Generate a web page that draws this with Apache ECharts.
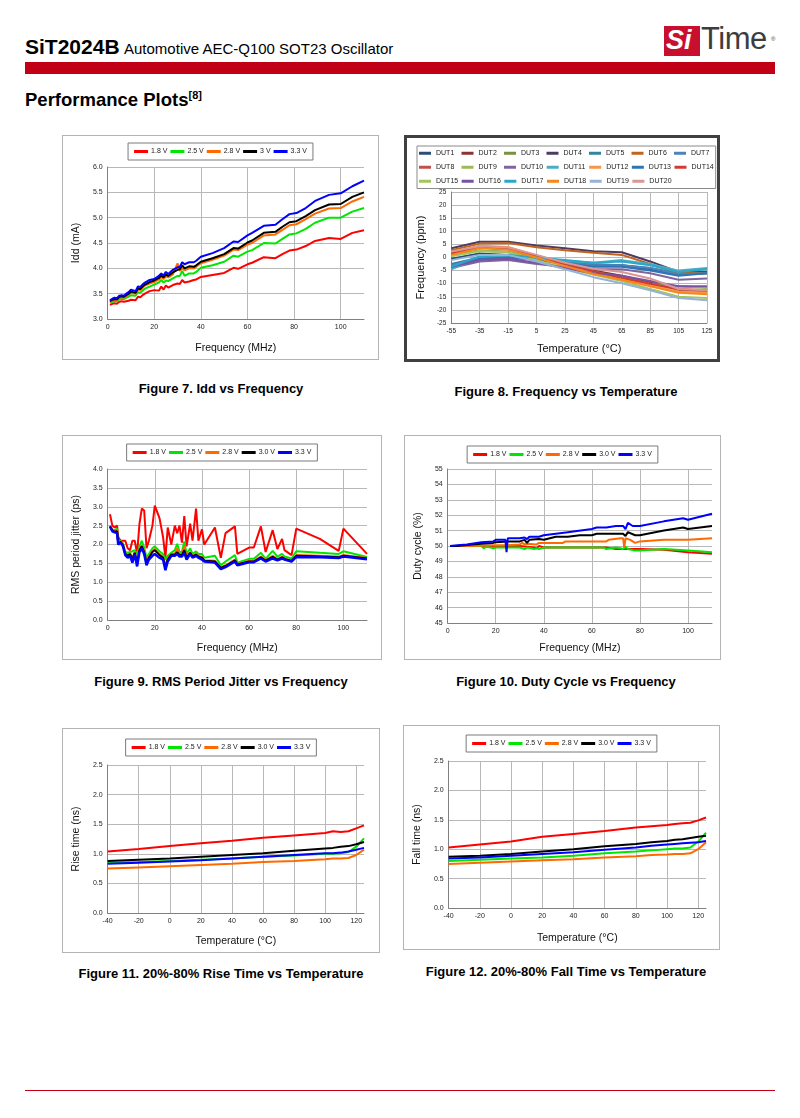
<!DOCTYPE html>
<html><head><meta charset="utf-8">
<script src="https://cdn.jsdelivr.net/npm/echarts@6/dist/echarts.min.js"></script>
<style>
html,body{margin:0;padding:0;background:#fff;}
body{width:800px;height:1118px;position:relative;overflow:hidden;font-family:"Liberation Sans",Arial,sans-serif;color:#000;}
.abs{position:absolute;white-space:nowrap;}
.box{position:absolute;box-sizing:border-box;background:#fff;}
.cap{position:absolute;font-weight:bold;font-size:13px;text-align:center;width:400px;}
</style></head><body>
<div class="abs" style="left:25px;top:35px;"><span style="font-weight:bold;font-size:21px;">SiT2024B</span> <span style="font-size:15px;">Automotive AEC-Q100 SOT23 Oscillator</span></div>
<div class="abs" style="left:25px;top:62px;width:750px;height:12px;background:#c10016;"></div>
<div class="abs" style="left:664px;top:26px;width:36px;height:30px;background:#c8102e;"></div>
<div class="abs" style="left:666px;top:25px;font:italic bold 27px 'Liberation Sans';color:#fff;">Si</div>
<div class="abs" style="left:701px;top:21px;font:31px 'Liberation Sans';color:#3d3d3d;letter-spacing:-0.5px;">Time</div>
<div class="abs" style="left:771px;top:36px;font-size:6px;color:#3d3d3d;">®</div>
<div class="abs" style="left:25px;top:89px;font-weight:bold;font-size:18.5px;">Performance Plots<sup style="font-size:11px;">[8]</sup></div>

<div class="cap" style="left:21px;top:381px;">Figure 7. Idd vs Frequency</div>
<div class="cap" style="left:366px;top:384px;">Figure 8. Frequency vs Temperature</div>
<div class="cap" style="left:21px;top:674px;">Figure 9. RMS Period Jitter vs Frequency</div>
<div class="cap" style="left:366px;top:674px;">Figure 10. Duty Cycle vs Frequency</div>
<div class="cap" style="left:21px;top:966px;">Figure 11. 20%-80% Rise Time vs Temperature</div>
<div class="cap" style="left:366px;top:964px;">Figure 12. 20%-80% Fall Time vs Temperature</div>
<div class="abs" style="left:25px;top:1090px;width:750px;height:1px;background:#c10016;"></div>

<script>
// ---------- DATA ----------
const voltNames = ['1.8 V', '2.5 V', '2.8 V', '3.0 V', '3.3 V'];
const voltNamesIdd = ['1.8 V', '2.5 V', '2.8 V', '3 V', '3.3 V'];

// Figure 7: Idd vs Frequency
const iddFreq = [1,2,3,4,5,6,7,8,9,10,12,13,14,15,16,18,20,22,23,24,25,26,28,30,31,32,33,35,37,38,40,45,50,54,56,60,62,67,72,75,78,81,85,89,95,100,105,110];
const idd18 = [3.28,3.30,3.31,3.30,3.34,3.35,3.34,3.35,3.36,3.38,3.37,3.44,3.43,3.47,3.50,3.55,3.57,3.56,3.64,3.58,3.66,3.62,3.67,3.70,3.69,3.77,3.72,3.74,3.77,3.78,3.83,3.87,3.91,4.01,3.99,4.08,4.11,4.22,4.20,4.28,4.35,4.37,4.44,4.54,4.60,4.58,4.70,4.75];
const idd25 = [3.32,3.34,3.35,3.35,3.39,3.40,3.39,3.42,3.44,3.47,3.46,3.53,3.52,3.56,3.60,3.64,3.68,3.72,3.77,3.72,3.76,3.75,3.80,3.85,3.85,3.95,3.85,3.90,3.90,3.93,4.01,4.06,4.13,4.25,4.23,4.33,4.36,4.50,4.49,4.58,4.67,4.69,4.78,4.90,5.00,5.00,5.12,5.19];
const idd28 = [3.33,3.36,3.37,3.37,3.42,3.43,3.42,3.45,3.48,3.52,3.50,3.58,3.57,3.62,3.66,3.70,3.73,3.78,3.83,3.79,3.84,3.82,3.88,4.10,3.95,4.00,3.96,4.00,4.00,4.03,4.10,4.17,4.25,4.37,4.36,4.47,4.50,4.65,4.67,4.76,4.85,4.87,4.97,5.08,5.18,5.19,5.32,5.41];
const idd30 = [3.35,3.38,3.39,3.39,3.44,3.45,3.44,3.47,3.50,3.54,3.52,3.60,3.59,3.64,3.68,3.73,3.76,3.81,3.86,3.82,3.88,3.85,3.92,3.97,3.98,4.06,4.00,4.04,4.03,4.06,4.13,4.20,4.28,4.40,4.39,4.51,4.55,4.70,4.72,4.82,4.91,4.93,5.03,5.15,5.26,5.27,5.41,5.50];
const idd33 = [3.37,3.40,3.42,3.41,3.46,3.47,3.46,3.50,3.53,3.58,3.55,3.64,3.63,3.68,3.72,3.77,3.79,3.85,3.90,3.86,3.93,3.89,3.97,4.02,4.03,4.12,4.08,4.12,4.12,4.15,4.23,4.30,4.40,4.53,4.52,4.65,4.70,4.84,4.86,4.97,5.07,5.09,5.19,5.33,5.45,5.48,5.62,5.73];

// Figure 8: Frequency vs Temperature (20 DUTs)
const dutTemps = ['-55','-35','-15','5','25','45','65','85','105','125'];
const dutNames = ['DUT1','DUT2','DUT3','DUT4','DUT5','DUT6','DUT7','DUT8','DUT9','DUT10','DUT11','DUT12','DUT13','DUT14','DUT15','DUT16','DUT17','DUT18','DUT19','DUT20'];
const dut1  = [-0.5,1.5,1,-1,-2,-3,-3,-4.5,-6.5,-6];
const dut2  = [1.5,4,3.5,0.5,-2.5,-5,-7,-9.5,-12.5,-13];
const dut3  = [1,2.7,2.2,-0.3,-2.8,-5.3,-7.5,-10,-11,-11.5];
const dut4  = [3.5,6,6,4.6,3.5,2.4,2,-1.5,-5.5,-5.5];
const dut5  = [-2.5,0,0.5,-0.5,-1.5,-2.5,-3,-4,-6,-5.8];
const dut6  = [2.8,5.3,5.5,3.9,2.8,1.8,1,-2.5,-6,-6];
const dut7  = [-3,0,0,-1,-2,-3,-3,-4,-6.5,-6];
const dut8  = [1.2,3.8,3.3,0.3,-2.7,-5.5,-7.5,-10,-13,-13];
const dut9  = [0.8,2.5,2,-0.5,-3,-5.5,-8,-10.5,-11,-11.5];
const dut10 = [-4,-1.5,-1,-2.5,-3.5,-4.5,-4.5,-6,-8.5,-8];
const dut11 = [-4.5,0,0.5,-0.5,-1.2,-2,-1,-2.5,-5,-4];
const dut12 = [2,4.5,4,0.8,-2.5,-5.5,-8,-10.5,-13,-13.5];
const dut13 = [-3.5,-0.5,0,-1,-2.2,-3.5,-3.5,-5,-7,-6];
const dut14 = [1.5,4,3.5,0.5,-2.5,-5.3,-7.8,-10,-12,-12.5];
const dut15 = [0.5,2.5,2,-1,-4,-6.5,-9,-12,-15,-15.5];
const dut16 = [-3.5,-1,-0.5,-2,-4,-6,-7,-9,-11,-11];
const dut17 = [-3.5,0.5,1,0,-1,-2,-1.5,-3,-5.5,-4.5];
const dut18 = [1,3.5,3,0,-3.3,-6.3,-8.5,-11,-13.5,-14];
const dut19 = [-1,1,1,-1.5,-4.5,-7.5,-9.8,-12.5,-15.5,-16.3];
const dut20 = [2.3,4.3,3.8,1,-2,-4.3,-5.5,-8,-12,-12.5];

// Figure 9: RMS period jitter vs Frequency
const jitFreq = [1,2,3,4,4.5,5.5,6.5,7.5,8.5,9.5,10.5,11.5,12.5,13.5,14.5,15.5,16.5,17.5,19,20,22,23.5,24.5,25.5,27,28.5,29.5,30.5,31.5,32.5,33.5,35,36,37.5,38.5,40,41,45.5,48,50,54,55,60,62,65,67,70,72,74,75,78,80,90,98,100,110];
const jit18 = [2.8,2.5,2.45,2.5,2.2,2.1,2.1,2.1,1.9,1.85,2.1,2.1,1.75,2.55,2.95,2.9,1.9,2.1,2.5,3.03,2.7,2.2,1.65,2.45,2.0,2.5,2.3,2.5,2.05,2.75,1.95,2.55,2.1,2.95,2.1,2.4,2.0,2.45,1.65,2.3,2.48,1.75,1.92,1.92,2.48,1.8,2.38,1.88,2.15,1.85,1.72,2.42,2.15,1.83,2.42,1.75];
const jit25 = [2.5,2.4,2.38,2.42,2.05,2.1,2.03,1.8,1.78,1.8,1.82,1.85,1.75,1.95,2.1,1.92,1.65,1.75,1.9,1.95,1.82,1.75,1.6,1.7,1.78,1.85,2.02,1.8,1.8,2.08,1.75,1.9,1.75,1.82,1.75,1.75,1.65,1.7,1.45,1.55,1.72,1.52,1.62,1.62,1.78,1.62,1.83,1.68,1.75,1.68,1.63,1.82,1.78,1.75,1.82,1.67];
const jit28 = [2.49,2.38,2.36,2.37,2.04,2.08,2.0,1.77,1.72,1.77,1.65,1.8,1.55,1.88,1.98,1.83,1.53,1.68,1.83,1.88,1.75,1.68,1.45,1.63,1.75,1.76,1.9,1.75,1.75,1.95,1.68,1.8,1.7,1.76,1.7,1.67,1.58,1.57,1.4,1.45,1.6,1.48,1.57,1.57,1.68,1.58,1.7,1.62,1.68,1.63,1.55,1.72,1.7,1.68,1.72,1.64];
const jit30 = [2.48,2.37,2.34,2.35,2.03,2.07,1.98,1.75,1.7,1.75,1.6,1.78,1.5,1.85,1.95,1.8,1.5,1.65,1.8,1.85,1.72,1.65,1.4,1.6,1.73,1.73,1.8,1.72,1.72,1.85,1.65,1.78,1.68,1.73,1.68,1.65,1.57,1.55,1.38,1.43,1.58,1.47,1.55,1.55,1.66,1.57,1.67,1.6,1.66,1.62,1.57,1.7,1.68,1.66,1.7,1.63];
const jit33 = [2.47,2.35,2.32,2.3,2.0,2.05,1.95,1.72,1.65,1.7,1.52,1.75,1.42,1.8,1.9,1.75,1.45,1.6,1.7,1.75,1.65,1.6,1.32,1.55,1.7,1.7,1.75,1.68,1.68,1.78,1.6,1.75,1.65,1.7,1.65,1.6,1.55,1.52,1.35,1.4,1.55,1.45,1.53,1.53,1.63,1.55,1.63,1.58,1.63,1.6,1.55,1.67,1.66,1.64,1.68,1.61];

// Figure 10: Duty cycle vs Frequency
const dutyFreq18 = [1,10,20,30,36,37,38,40,50,60,66,70,74,80,90,100,110];
const duty18 = [50,50,50,50,49.9,49.85,50,49.9,49.9,49.9,49.9,49.8,49.8,49.8,49.75,49.6,49.5];
const dutyFreq25 = [1,10,14,15,16,18,19,20,25,30,32,33,36,37,38,39,40,50,60,65,66,70,72,73,74,75,78,80,90,100,110];
const duty25 = [50,50,50,49.85,49.95,49.9,49.85,49.9,49.9,49.9,49.8,49.9,49.8,49.85,49.8,49.85,49.9,49.9,49.9,49.9,49.8,49.9,49.85,49.8,49.95,49.8,49.7,49.7,49.8,49.7,49.6];
const dutyFreq28 = [1,10,20,25,30,31,32,33,37,38,40,48,49,60,66,67,72,73,73.5,74,76,78,80,90,100,110];
const duty28 = [50,50,50.05,50.05,50.1,50.2,50.1,50.15,50.1,50.2,50.2,50.2,50.3,50.3,50.3,50.4,50.5,50.5,49.9,50.5,50.4,50.2,50.3,50.4,50.4,50.5];
const dutyFreq30 = [1,4,10,14,19,20,25,30,32,33,34,38,40,45,50,55,60,62,70,73,74,75,78,80,90,98,100,110];
const duty30 = [50,50,50.1,50.15,50.2,50.25,50.3,50.3,50.4,50.2,50.4,50.45,50.4,50.6,50.6,50.7,50.7,50.8,50.8,50.8,50.65,50.9,50.7,50.7,51.0,51.2,51.1,51.3];
const dutyFreq33 = [1,4,8,10,14,19,20,24,24.5,25,30,32,33,34,38,40,50,60,62,66,70,73,74,75,77,80,90,98,100,110];
const duty33 = [50,50.05,50.1,50.15,50.25,50.3,50.4,50.4,49.6,50.5,50.5,50.55,50.45,50.6,50.6,50.7,50.9,51.1,51.2,51.2,51.3,51.3,51.1,51.5,51.3,51.3,51.6,51.8,51.7,52.1];

// Figure 11: Rise time vs Temperature
const riseTemp = [-40,-20,0,20,40,60,80,100,105,110,115,120,125];
const rise18 = [1.04,1.08,1.13,1.18,1.22,1.27,1.31,1.35,1.38,1.37,1.38,1.43,1.48];
const rise25 = [0.85,0.86,0.88,0.90,0.92,0.95,0.97,1.00,1.00,1.01,1.03,1.12,1.26];
const rise28 = [0.75,0.77,0.79,0.81,0.83,0.86,0.88,0.91,0.92,0.92,0.93,0.98,1.07];
const rise30 = [0.88,0.90,0.92,0.95,0.98,1.01,1.05,1.09,1.10,1.12,1.13,1.16,1.20];
const rise33 = [0.83,0.85,0.87,0.89,0.92,0.95,0.98,1.01,1.01,1.02,1.04,1.07,1.10];

// Figure 12: Fall time vs Temperature
const fallTemp = [-40,-20,0,20,40,60,80,90,100,105,110,115,120,125];
const fall18 = [1.03,1.08,1.13,1.21,1.26,1.31,1.37,1.39,1.41,1.43,1.44,1.45,1.49,1.54];
const fall25 = [0.80,0.82,0.84,0.86,0.89,0.93,0.96,0.98,1.00,1.01,1.01,1.03,1.13,1.28];
const fall28 = [0.75,0.77,0.79,0.81,0.83,0.86,0.88,0.90,0.91,0.92,0.92,0.93,1.00,1.12];
const fall30 = [0.87,0.89,0.92,0.96,1.00,1.05,1.09,1.12,1.14,1.16,1.17,1.19,1.21,1.23];
const fall33 = [0.84,0.86,0.89,0.92,0.95,0.99,1.03,1.06,1.08,1.09,1.10,1.11,1.12,1.14];

// ---------- STYLE / LAYOUT ----------
const FONT = '"Liberation Sans", Arial, sans-serif';
const voltColors = ['#ff0000', '#00e600', '#ff6a00', '#000000', '#0000ff'];
const dutColors = ['#2c4d75','#8b3331','#77933c','#4d3b62','#31859c','#c0651b','#4f81bd','#c0504d','#9bbb59','#8064a2','#4bacc6','#f79646','#2e75b6','#d03b36','#a5c45e','#7a52a5','#2aa7c9','#f7861c','#95b3d7','#d99694'];

const LAYOUT = {
  f7:  {x:62,  y:135, w:317, h:225, b:1, bc:'#b4b4b4', plot:[96,364,167,321]},
  f8:  {x:404, y:135, w:316, h:227, b:3, bc:'#404040', plot:[446,707,192,331]},
  f9:  {x:62,  y:435, w:320, h:225, b:1, bc:'#b4b4b4', plot:[98,367,469,623]},
  f10: {x:404, y:435, w:317, h:225, b:1, bc:'#b4b4b4', plot:[438,712,469,628]},
  f11: {x:62,  y:728, w:318, h:225, b:1, bc:'#b4b4b4', plot:[96,364,765,916]},
  f12: {x:403, y:725, w:317, h:225, b:1, bc:'#b4b4b4', plot:[440,706,761,913]}
};

function makeChart(key) {
  const L = LAYOUT[key];
  const d = document.createElement('div');
  d.className = 'box';
  d.style.cssText = `left:${L.x}px;top:${L.y}px;width:${L.w}px;height:${L.h}px;border:${L.b}px solid ${L.bc};`;
  document.body.appendChild(d);
  const c = document.createElement('div');
  c.style.cssText = `position:absolute;left:0;top:0;width:${L.w-2*L.b}px;height:${L.h-2*L.b}px;`;
  d.appendChild(c);
  return echarts.init(c, null, {renderer:'canvas'});
}
function gridFor(key) {
  const L = LAYOUT[key], p = L.plot;
  return {left: p[0]-L.x-L.b, top: p[2]-L.y-L.b, width: p[1]-p[0], height: p[3]-p[2], containLabel:false};
}
function legendTop(key, pageY) { const L = LAYOUT[key]; return pageY - L.y - L.b; }

const labelStyle = {fontFamily: FONT, fontSize: 7, color: '#222', margin: 5};
const splitStyle = {show:true, lineStyle:{color:'#b8b8b8', width:1}};
const axisLineStyle = {show:true, onZero:false, lineStyle:{color:'#808080', width:1}};
const nameStyle = {fontFamily: FONT, fontSize: 10.5, color:'#111'};

function valAxis(opts) {
  return Object.assign({
    type:'value', axisLine: axisLineStyle, axisTick:{show:false},
    splitLine: splitStyle, axisLabel: Object.assign({}, labelStyle),
    nameLocation:'middle', nameTextStyle: nameStyle
  }, opts);
}
function voltLegend(key, pageY, names) {
  return {
    top: legendTop(key, pageY), left:'center', data: names, icon:'rect',
    itemWidth: 14, itemHeight: 3, itemGap: 3,
    padding: [5, 6, 5, 6], borderColor:'#7a7a7a', borderWidth:1,
    textStyle: {fontFamily: FONT, fontSize: 7, color:'#222', padding:[0,0,0,-2]}
  };
}
function lineSeries(name, color, xs, ys, width) {
  return {
    type:'line', name, symbol:'none', showSymbol:false, animation:false,
    lineStyle:{color, width: width || 2}, itemStyle:{color},
    data: xs.map((x, i) => [x, ys[i]])
  };
}
const hideAt = (m) => (v => (v === m ? '' : String(v)));
const fix1 = (v => v.toFixed(1));

// ---------- Figure 7 ----------
makeChart('f7').setOption({
  animation:false,
  grid: gridFor('f7'),
  legend: voltLegend('f7', 143, voltNamesIdd),
  xAxis: valAxis({min:0, max:110, interval:20, name:'Frequency (MHz)', nameGap:24,
    axisLabel: Object.assign({}, labelStyle, {formatter: hideAt(110)}),
    splitLine: Object.assign({}, splitStyle, {showMaxLine:false})}),
  yAxis: valAxis({min:3, max:6, interval:0.5, name:'Idd (mA)', nameGap:22,
    axisLabel: Object.assign({}, labelStyle, {formatter: fix1})}),
  series: [
    lineSeries(voltNamesIdd[0], voltColors[0], iddFreq, idd18),
    lineSeries(voltNamesIdd[1], voltColors[1], iddFreq, idd25),
    lineSeries(voltNamesIdd[2], voltColors[2], iddFreq, idd28),
    lineSeries(voltNamesIdd[3], voltColors[3], iddFreq, idd30),
    lineSeries(voltNamesIdd[4], voltColors[4], iddFreq, idd33)
  ]
});

// ---------- Figure 8 ----------
const dutValues = [dut1,dut2,dut3,dut4,dut5,dut6,dut7,dut8,dut9,dut10,dut11,dut12,dut13,dut14,dut15,dut16,dut17,dut18,dut19,dut20];
makeChart('f8').setOption({
  animation:false,
  grid: gridFor('f8'),
  legend: {
    top: legendTop('f8', 146), left: 417 - LAYOUT.f8.x - LAYOUT.f8.b, width: 296,
    data: dutNames, icon:'rect', itemWidth: 12, itemHeight: 3, itemGap: 3.5,
    padding: [2, 2, 2, 2], borderColor:'#8a8a8a', borderWidth:1,
    formatter: n => '{a|' + n + '}',
    textStyle: {fontFamily: FONT, fontSize: 7, color:'#222', lineHeight: 10.5,
      rich: {a: {width: 22, height: 10.5, fontFamily: FONT, fontSize: 7, color:'#222', lineHeight: 10.5}}}
  },
  xAxis: {type:'category', data: dutTemps, boundaryGap:false, name:'Temperature (°C)',
    nameLocation:'middle', nameGap:20, nameTextStyle: Object.assign({}, nameStyle, {fontSize:11}),
    axisLine: axisLineStyle, axisTick:{show:false}, splitLine: splitStyle,
    axisLabel: Object.assign({}, labelStyle, {fontSize:6.5, interval:0})},
  yAxis: valAxis({min:-25, max:25, interval:5, name:'Frequency (ppm)', nameGap:20,
    nameTextStyle: Object.assign({}, nameStyle, {fontSize:11}),
    axisLabel: Object.assign({}, labelStyle, {fontSize:6.5})}),
  series: dutNames.map((n, i) => ({
    type:'line', name:n, symbol:'none', showSymbol:false, animation:false,
    lineStyle:{color: dutColors[i], width:2}, itemStyle:{color: dutColors[i]},
    data: dutValues[i]
  }))
});

// ---------- Figure 9 ----------
makeChart('f9').setOption({
  animation:false,
  grid: gridFor('f9'),
  legend: voltLegend('f9', 444, voltNames),
  xAxis: valAxis({min:0, max:110, interval:20, name:'Frequency (MHz)', nameGap:23,
    axisLabel: Object.assign({}, labelStyle, {formatter: hideAt(110)}),
    splitLine: Object.assign({}, splitStyle, {showMaxLine:false})}),
  yAxis: valAxis({min:0, max:4, interval:0.5, name:'RMS period jitter (ps)', nameGap:22,
    axisLabel: Object.assign({}, labelStyle, {formatter: fix1})}),
  series: [
    lineSeries(voltNames[0], voltColors[0], jitFreq, jit18, 2),
    lineSeries(voltNames[1], voltColors[1], jitFreq, jit25, 2),
    lineSeries(voltNames[2], voltColors[2], jitFreq, jit28, 2),
    lineSeries(voltNames[3], voltColors[3], jitFreq, jit30, 2),
    lineSeries(voltNames[4], voltColors[4], jitFreq, jit33, 2.5)
  ]
});

// ---------- Figure 10 ----------
makeChart('f10').setOption({
  animation:false,
  grid: gridFor('f10'),
  legend: voltLegend('f10', 446, voltNames),
  xAxis: valAxis({min:0, max:110, interval:20, name:'Frequency (MHz)', nameGap:20,
    axisLabel: Object.assign({}, labelStyle, {formatter: hideAt(110)}),
    splitLine: Object.assign({}, splitStyle, {showMaxLine:false})}),
  yAxis: valAxis({min:45, max:55, interval:1, name:'Duty cycle (%)', nameGap:19}),
  series: [
    lineSeries(voltNames[0], voltColors[0], dutyFreq18, duty18),
    lineSeries(voltNames[1], voltColors[1], dutyFreq25, duty25),
    lineSeries(voltNames[2], voltColors[2], dutyFreq28, duty28),
    lineSeries(voltNames[3], voltColors[3], dutyFreq30, duty30),
    lineSeries(voltNames[4], voltColors[4], dutyFreq33, duty33)
  ]
});

// ---------- Figure 11 ----------
makeChart('f11').setOption({
  animation:false,
  grid: gridFor('f11'),
  legend: voltLegend('f11', 739, voltNames),
  xAxis: valAxis({min:-40, max:125, interval:20, name:'Temperature (°C)', nameGap:23,
    axisLabel: Object.assign({}, labelStyle, {formatter: hideAt(125)}),
    splitLine: Object.assign({}, splitStyle, {showMaxLine:false})}),
  yAxis: valAxis({min:0, max:2.5, interval:0.5, name:'Rise time (ns)', nameGap:22,
    axisLabel: Object.assign({}, labelStyle, {formatter: fix1})}),
  series: [
    lineSeries(voltNames[0], voltColors[0], riseTemp, rise18),
    lineSeries(voltNames[1], voltColors[1], riseTemp, rise25),
    lineSeries(voltNames[2], voltColors[2], riseTemp, rise28),
    lineSeries(voltNames[3], voltColors[3], riseTemp, rise30),
    lineSeries(voltNames[4], voltColors[4], riseTemp, rise33)
  ]
});

// ---------- Figure 12 ----------
makeChart('f12').setOption({
  animation:false,
  grid: gridFor('f12'),
  legend: voltLegend('f12', 735, voltNames),
  xAxis: valAxis({min:-40, max:125, interval:20, name:'Temperature (°C)', nameGap:25,
    axisLabel: Object.assign({}, labelStyle, {formatter: hideAt(125)}),
    splitLine: Object.assign({}, splitStyle, {showMaxLine:false})}),
  yAxis: valAxis({min:0, max:2.5, interval:0.5, name:'Fall time (ns)', nameGap:22,
    axisLabel: Object.assign({}, labelStyle, {formatter: fix1})}),
  series: [
    lineSeries(voltNames[0], voltColors[0], fallTemp, fall18),
    lineSeries(voltNames[1], voltColors[1], fallTemp, fall25),
    lineSeries(voltNames[2], voltColors[2], fallTemp, fall28),
    lineSeries(voltNames[3], voltColors[3], fallTemp, fall30),
    lineSeries(voltNames[4], voltColors[4], fallTemp, fall33)
  ]
});
</script>
</body></html>
